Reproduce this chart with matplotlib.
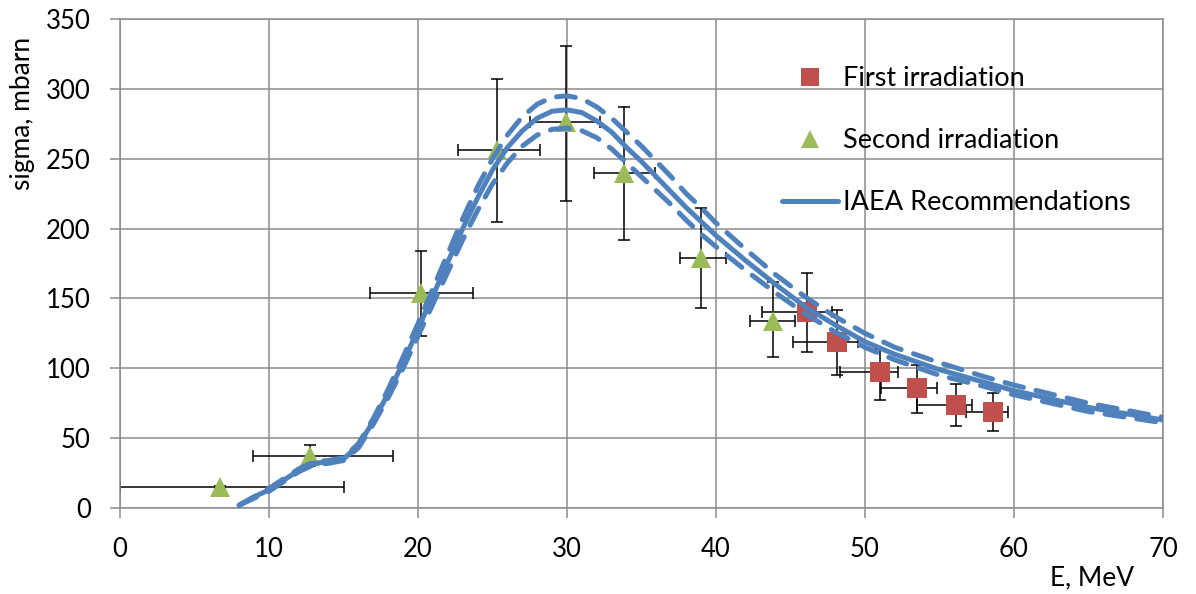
import numpy as np
import matplotlib
matplotlib.use("Agg")
import matplotlib.pyplot as plt
from matplotlib.lines import Line2D

plt.rcParams['font.family'] = ['Lato', 'DejaVu Sans']

# first irradiation (squares)
e1 = [46.1, 48.1, 51.0, 53.5, 56.1, 58.6]
s1 = [140, 119, 97, 86, 74, 69]
e1_lo = [43.1, 45.2, 48.3, 51.1, 53.5, 56.8]
e1_hi = [47.8, 49.5, 52.2, 54.8, 57.2, 59.6]
s1_lo = [112, 95, 77, 68, 59, 55]
s1_hi = [168, 142, 114, 102, 89, 82]

# second irradiation (triangles)
e2 = [6.7, 12.75, 20.2, 25.3, 29.9, 33.8, 39.0, 43.8]
s2 = [15, 37, 154, 256, 276, 240, 179, 134]
e2_lo = [0.0, 8.9, 16.8, 22.7, 27.5, 31.8, 37.6, 42.3]
e2_hi = [15.0, 18.3, 23.7, 28.2, 32.2, 35.9, 40.7, 45.3]
s2_lo = [14, 30, 123, 205, 220, 192, 143, 108]
s2_hi = [16, 45, 184, 307, 331, 287, 215, 162]

# IAEA recommended curve and its uncertainty band
e_iaea = [8, 9, 10, 11, 12, 13, 14, 15, 16, 17, 18, 19, 20, 21, 22, 23, 24, 25,
          26, 27, 28, 29, 30, 31, 32, 33, 34, 35, 36, 37, 38, 39, 40, 42, 44,
          46, 48, 50, 52, 55, 58, 60, 65, 70]
s_iaea = [2, 8, 13, 20, 27, 32, 33, 35, 45, 62, 82, 104, 128, 152, 176, 200,
          222, 242, 258, 270, 279, 284, 285, 283, 277, 269, 258, 248, 237, 226,
          215, 205, 195, 177, 160, 144, 131, 119, 110, 99, 90, 84, 72, 63]
s_up = [2, 8, 14, 21, 28, 33, 34, 36, 46, 64, 85, 108, 132, 157, 182, 207,
        230, 250, 267, 280, 289, 294, 295, 293, 287, 279, 269, 259, 248, 237,
        225, 215, 204, 185, 167, 151, 137, 125, 115, 104, 94, 88, 75, 65]
s_dn = [2, 7, 12, 19, 26, 31, 32, 34, 43, 60, 79, 100, 123, 146, 169, 192,
        213, 232, 247, 259, 267, 271, 272, 270, 265, 257, 247, 237, 227, 217,
        206, 196, 187, 170, 154, 139, 126, 115, 106, 95, 87, 81, 69, 61]

blue = '#4F81BD'
red = '#C0504D'
green = '#9BBB59'
gridc = '#8C8C8C'

fig = plt.figure(figsize=(11.96, 5.94), dpi=100)
ax = fig.add_axes([120/1196, 1-508/594, (1163-120)/1196, (508-19)/594])

def draw_points(e, s, elo, ehi, slo, shi, marker, color, ms):
    e = np.array(e); s = np.array(s)
    xerr = [e - np.array(elo), np.array(ehi) - e]
    yerr = [s - np.array(slo), np.array(shi) - s]
    ax.errorbar(e, s, xerr=xerr, yerr=yerr, fmt='none', ecolor='black',
                elinewidth=1.1, capsize=4.3, capthick=1.1, zorder=2)
    ax.plot(e, s, linestyle='none', marker=marker, color=color, ms=ms,
            markeredgewidth=0, zorder=3)

draw_points(e1, s1, e1_lo, e1_hi, s1_lo, s1_hi, 's', red, 14.5)
draw_points(e2, s2, e2_lo, e2_hi, s2_lo, s2_hi, '^', green, 15)

lw = 3.6
for band in (s_up, s_dn):
    ax.plot(e_iaea, band, color=blue, lw=lw, dashes=(3.8, 2.6),
            dash_capstyle='round', zorder=4)
ax.plot(e_iaea, s_iaea, color=blue, lw=lw, solid_capstyle='round', zorder=5)

ax.set_xlim(0, 70)
ax.set_ylim(0, 350)
ax.set_xticks(np.arange(0, 71, 10))
ax.set_yticks(np.arange(0, 351, 50))
ax.grid(True, color=gridc, lw=1.1)
ax.set_axisbelow(True)
for sp in ax.spines.values():
    sp.set_color(gridc)
    sp.set_linewidth(1.1)
ax.tick_params(axis='both', colors=gridc, labelcolor='black', labelsize=18.5,
               length=7, width=1.1, pad=14)

fig.text(23/1196, 1-113/594, 'sigma, mbarn', rotation=90, fontsize=19,
         ha='center', va='center')
fig.text(1092/1196, 1-578/594, 'E, MeV', fontsize=19, ha='center', va='center')

handles = [
    Line2D([], [], linestyle='none', marker='s', color=red, ms=13, markeredgewidth=0),
    Line2D([], [], linestyle='none', marker='^', color=green, ms=13, markeredgewidth=0),
    Line2D([], [], color=blue, lw=lw, solid_capstyle='round'),
]
labels = ['First irradiation', 'Second irradiation', 'IAEA Recommendations']
fig.legend(handles, labels, loc='upper left', bbox_to_anchor=(782/1196, 1-66/594),
           frameon=False, fontsize=19.5, handlelength=2.07, handletextpad=0.19,
           labelspacing=1.37, borderpad=0, borderaxespad=0, numpoints=1)

fig.savefig('out.png', dpi=100)
